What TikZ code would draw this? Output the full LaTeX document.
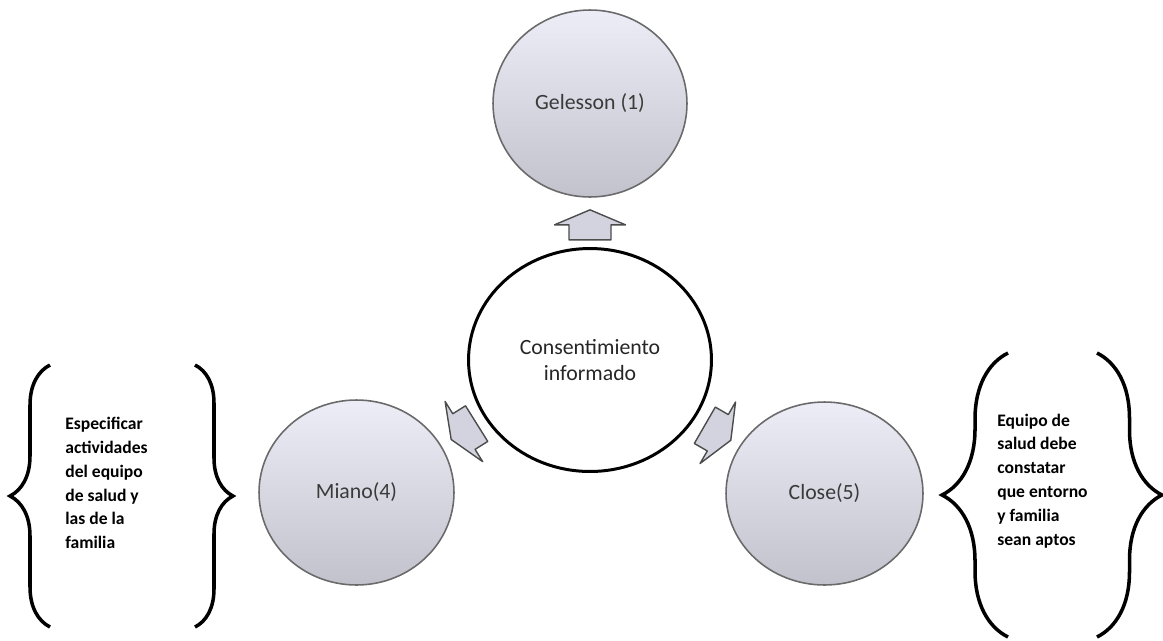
\documentclass[tikz,border=0pt]{standalone}
\usepackage{fontspec}
\setmainfont{Carlito}
\usepackage{tikz}
\usetikzlibrary{shapes.geometric}
\usetikzlibrary{decorations,decorations.pathreplacing}
\usetikzlibrary{calc}
\usepackage{xcolor}
\definecolor{bubtop}{HTML}{EDEDF7}
\definecolor{bubbot}{HTML}{C2C2CD}
\definecolor{bubline}{HTML}{6A6A6A}
\definecolor{arrfill}{HTML}{D3D3DF}
\definecolor{labgray}{HTML}{3A3A3A}

\begin{document}
\begin{tikzpicture}[x=0.02cm,y=-0.02cm,
  bubble/.style={ellipse,draw=bubline,line width=0.9pt,top color=bubtop,bottom color=bubbot,text=labgray,font=\fontsize{12.4}{14}\selectfont},
  blockarr/.style={draw=black!70,line width=0.8pt,fill=arrfill,line join=round},
  curly/.style={decorate,line width=2pt},
  bracetext/.style={align=left,inner sep=0pt,anchor=west,font=\bfseries\fontsize{10}{13.6}\selectfont}]
\useasboundingbox (0,0) rectangle (1163,640);
\node[draw,fill=white,line width=1.7pt] (cons) at (590,360) [ellipse,minimum width=4.86cm,minimum height=4.46cm,align=center,text=black!85,font=\fontsize{12.4}{14.5}\selectfont] {Consentimiento\\informado};
\node[bubble] (gel) at (590,103.5) [minimum width=3.88cm,minimum height=3.74cm] {Gelesson (1)};
\node[bubble] (mia) at (356.5,492.5) [minimum width=3.9cm,minimum height=3.7cm] {Miano(4)};
\node[bubble] (clo) at (824.5,493.5) [minimum width=3.94cm,minimum height=3.66cm] {Close(5)};
\foreach \t/\a/\r in {gel/90/0.527,mia/212/0.54,clo/-30/0.545} {
	\draw[blockarr,shift={($(cons)!\r!(\t)$)},rotate=\a] (15,0) -- (0,35.5) -- (0,21) -- (-15,21) -- (-15,-21) -- (0,-21) -- (0,-35.5) -- cycle;
}
\draw[curly,decoration={brace,amplitude=0.8cm}] (50,627) -- (50,365);
\draw[curly,decoration={brace,amplitude=0.76cm}] (195,365) -- (195,627);
\draw[curly,decoration={brace,amplitude=1.32cm}] (1008,637) -- (1008,353);
\draw[curly,decoration={brace,amplitude=1.3cm}] (1097,353) -- (1097,637);
\node[bracetext] (espec) at (65,483) {Especificar\\actividades\\del equipo\\de salud y\\las de la\\familia};
\node[bracetext] (equipo) at (997,481) {Equipo de\\salud debe\\constatar\\que entorno\\y familia\\sean aptos};
\end{tikzpicture}
\end{document}
